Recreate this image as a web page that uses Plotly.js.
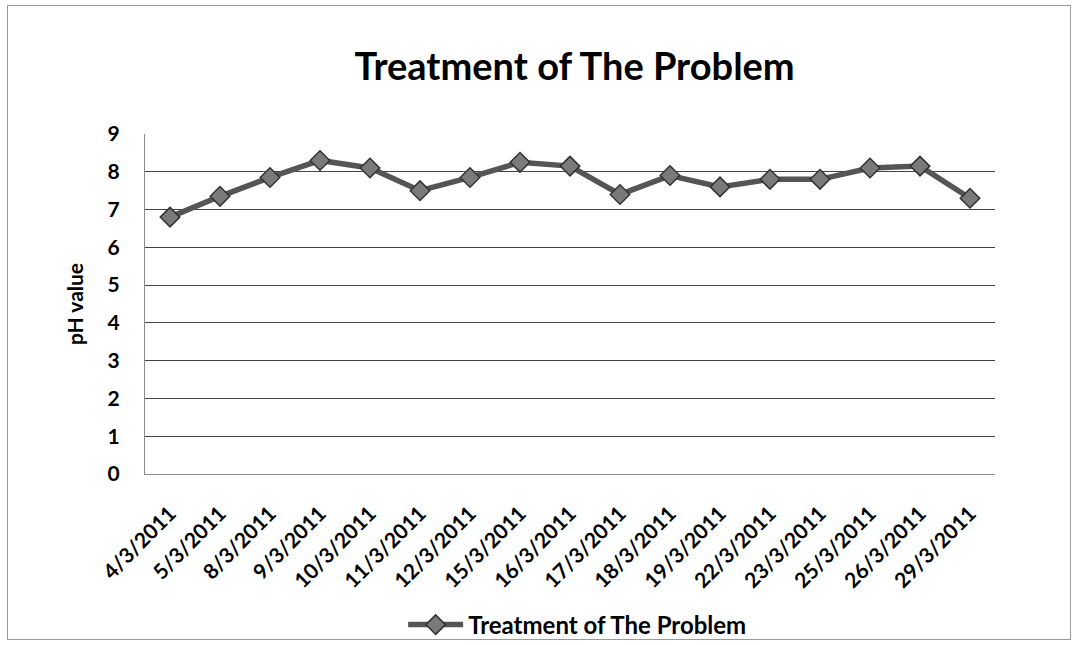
<!DOCTYPE html>
<html>
<head>
<meta charset="utf-8">
<script src="https://cdn.plot.ly/plotly-3.0.1.min.js"></script>
<style>
html,body{margin:0;padding:0;background:#fff;}
#wrap{position:relative;width:1074px;height:645px;}
#chart{position:absolute;left:0;top:0;width:1074px;height:645px;}
#frame{position:absolute;left:7px;top:5px;width:1062px;height:633px;border:1px solid #9a9a9a;pointer-events:none;}
</style>
</head>
<body>
<div id="wrap">
<div id="chart"></div>
<div id="frame"></div>
</div>
<script>
const dates = ["4/3/2011","5/3/2011","8/3/2011","9/3/2011","10/3/2011","11/3/2011","12/3/2011","15/3/2011","16/3/2011","17/3/2011","18/3/2011","19/3/2011","22/3/2011","23/3/2011","25/3/2011","26/3/2011","29/3/2011"];
const phValues = [6.8,7.35,7.85,8.3,8.1,7.5,7.85,8.25,8.15,7.4,7.9,7.6,7.8,7.8,8.1,8.15,7.3];
const yTicks = [0,1,2,3,4,5,6,7,8,9];
const seriesName = "Treatment of The Problem";
const chartTitle = "Treatment of The Problem";
const yTitle = "pH value";

const trace = {
  x: dates,
  y: phValues,
  type: "scatter",
  mode: "lines+markers",
  name: seriesName,
  line: {color: "#555555", width: 5.5},
  marker: {symbol: "diamond", size: 15, color: "#7a7a7a", line: {color: "#333333", width: 1.5}}
};

const layout = {
  width: 1074,
  height: 645,
  paper_bgcolor: "#ffffff",
  plot_bgcolor: "#ffffff",
  margin: {l: 145, r: 79, t: 134, b: 171},
  font: {family: "Lato, 'Open Sans', sans-serif", color: "#000"},
  title: {
    text: chartTitle,
    font: {family: "Lato, 'Open Sans', sans-serif", size: 38, color: "#000", weight: 700},
    x: 0.535, xanchor: "center",
    y: 0.896, yanchor: "middle",
    automargin: false
  },
  xaxis: {
    type: "category",
    range: [-0.5, 16.5],
    automargin: false,
    tickangle: -45,
    ticks: "",
    ticklabelstandoff: 18,
    tickfont: {size: 21, color: "#000", weight: 700},
    showgrid: false,
    showline: true,
    linecolor: "#8a8a8a",
    linewidth: 1,
    zeroline: false
  },
  yaxis: {
    range: [0, 9],
    automargin: false,
    tickvals: yTicks,
    ticktext: yTicks.map(String),
    ticks: "",
    ticklabelstandoff: 20,
    tickfont: {size: 21, color: "#000", weight: 700},
    showgrid: true,
    gridcolor: "#444444",
    gridwidth: 1,
    showline: true,
    linecolor: "#8a8a8a",
    linewidth: 1,
    zeroline: false,
    title: {text: yTitle, font: {size: 21, color: "#000", weight: 700}, standoff: 18}
  },
  showlegend: true,
  legend: {
    orientation: "h",
    xref: "paper",
    x: 0.509, xanchor: "center",
    yref: "container",
    y: 0.031, yanchor: "middle",
    itemwidth: 55,
    font: {size: 24, color: "#000", weight: 700},
    bgcolor: "rgba(0,0,0,0)"
  }
};

Plotly.newPlot("chart", [trace], layout, {staticPlot: true, displayModeBar: false});
</script>
</body>
</html>
